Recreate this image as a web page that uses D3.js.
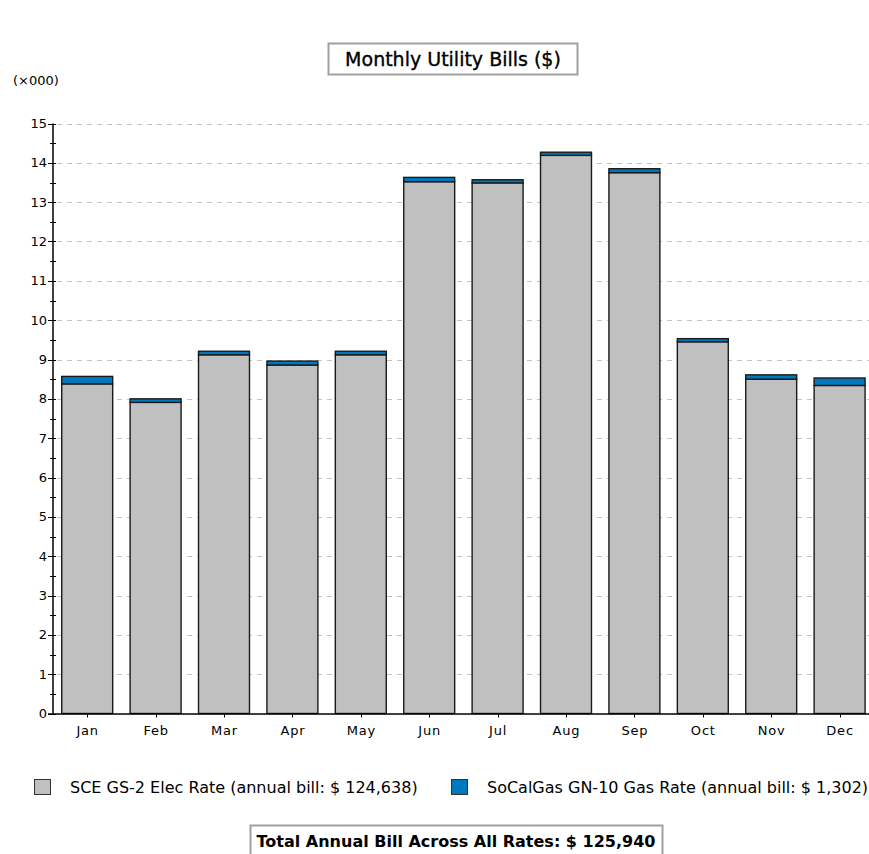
<!DOCTYPE html>
<html><head><meta charset="utf-8">
<script src="https://cdn.jsdelivr.net/npm/d3@7"></script>
<style>body{margin:0;background:#fff}svg{display:block}</style>
</head><body>
<svg id="c" width="869" height="854"></svg>
<script>
const months = ["Jan","Feb","Mar","Apr","May","Jun","Jul","Aug","Sep","Oct","Nov","Dec"];
const elec = [8.38,7.91,9.12,8.86,9.12,13.52,13.49,14.19,13.75,9.45,8.50,8.34];
const gas  = [0.19,0.09,0.09,0.10,0.09,0.11,0.08,0.08,0.10,0.08,0.11,0.19];
const yTicks = [0,1,2,3,4,5,6,7,8,9,10,11,12,13,14,15];
const seriesNames = ["SCE GS-2 Elec Rate (annual bill: $ 124,638)","SoCalGas GN-10 Gas Rate (annual bill: $ 1,302)"];
const seriesColors = ["#c0c0c0","#0078bd"];
const titleText = "Monthly Utility Bills ($)";
const totalText = "Total Annual Bill Across All Rates:  $ 125,940";
const unitText = "(\u00d7000)";

const font = "Verdana, 'DejaVu Sans', sans-serif";
const svg = d3.select("#c");
const x0 = 53, y0 = 713.5, yTop = 123.5;
const x = d3.scaleBand().domain(months).range([x0, x0 + 12*68.4]).paddingInner(0.255).paddingOuter(0.1275);
const y = d3.scaleLinear().domain([0,15]).range([y0, yTop]);

// gridlines
svg.append("g").selectAll("line").data(yTicks.filter(d=>d>0)).join("line")
  .attr("x1", x0+4).attr("x2", 869).attr("y1", d=>Math.round(y(d))+0.5).attr("y2", d=>Math.round(y(d))+0.5)
  .attr("stroke","#c4c4c4").attr("stroke-dasharray","5,5");

// bars
const data = months.map((m,i)=>({m, e:elec[i], g:gas[i]}));
const bars = svg.append("g");
bars.selectAll("rect.e").data(data).join("rect").attr("class","e")
  .attr("x", d=>x(d.m)).attr("width", x.bandwidth())
  .attr("y", d=>y(d.e)).attr("height", d=>y0 - y(d.e))
  .attr("fill", seriesColors[0]).attr("stroke","#1a1a1a").attr("stroke-width",1.4);
bars.selectAll("rect.g").data(data).join("rect").attr("class","g")
  .attr("x", d=>x(d.m)).attr("width", x.bandwidth())
  .attr("y", d=>y(d.e+d.g)).attr("height", d=>y(d.e) - y(d.e+d.g))
  .attr("fill", seriesColors[1]).attr("stroke","#1a1a1a").attr("stroke-width",1.4);

// y axis
const ya = svg.append("g").attr("transform",`translate(${x0},0)`);
ya.append("line").attr("x1",0).attr("x2",0).attr("y1",yTop).attr("y2",y0).attr("stroke","#000").attr("stroke-width",1.5);
const minor = d3.range(0.5,15,1);
ya.selectAll("line.mi").data(minor).join("line").attr("class","mi")
  .attr("x1",-3).attr("x2",3).attr("y1",d=>Math.round(y(d))+0.5).attr("y2",d=>Math.round(y(d))+0.5).attr("stroke","#000");
ya.selectAll("line.ma").data(yTicks).join("line").attr("class","ma")
  .attr("x1",-5).attr("x2",3).attr("y1",d=>Math.round(y(d))+0.5).attr("y2",d=>Math.round(y(d))+0.5).attr("stroke","#000");
ya.selectAll("text").data(yTicks).join("text")
  .attr("x",-6).attr("y",d=>y(d)+4.5).attr("text-anchor","end")
  .attr("font-family",font).attr("font-size",13).attr("fill","#000").text(d=>d);

// x axis
const xa = svg.append("g");
xa.append("line").attr("x1",x0-5).attr("x2",869).attr("y1",y0+0.5).attr("y2",y0+0.5).attr("stroke","#000").attr("stroke-width",1.3);
xa.selectAll("line.t").data(months).join("line").attr("class","t")
  .attr("x1",d=>Math.round(x(d)+x.bandwidth()/2)+0.5).attr("x2",d=>Math.round(x(d)+x.bandwidth()/2)+0.5)
  .attr("y1",y0).attr("y2",y0+4).attr("stroke","#000");
xa.selectAll("text").data(months).join("text")
  .attr("x",d=>x(d)+x.bandwidth()/2+0.5).attr("y",735).attr("text-anchor","middle")
  .attr("font-family",font).attr("font-size",13).attr("letter-spacing",0.8).attr("fill","#000").text(d=>d);

// unit label
svg.append("text").attr("x",13).attr("y",85).attr("font-family",font).attr("font-size",13).attr("fill","#000").text(unitText);

// title box
svg.append("rect").attr("x",328.5).attr("y",43.5).attr("width",249).attr("height",31).attr("fill","#fff").attr("stroke","#a0a0a0").attr("stroke-width",2);
svg.append("text").attr("x",453).attr("y",66).attr("text-anchor","middle").attr("font-family",font).attr("font-size",19).attr("fill","#000").attr("stroke","#000").attr("stroke-width",0.35).text(titleText);

// legend
const leg = [{x:34, tx:70},{x:451, tx:487}];
leg.forEach((l,i)=>{
  svg.append("rect").attr("x",l.x+0.5).attr("y",779.5).attr("width",16).attr("height",15).attr("fill",seriesColors[i]).attr("stroke","#333").attr("stroke-width",1);
  svg.append("text").attr("x",l.tx).attr("y",793).attr("font-family",font).attr("font-size",16).attr("fill","#000").text(seriesNames[i]);
});

// total box
svg.append("rect").attr("x",250.5).attr("y",825.5).attr("width",412).attr("height",34).attr("fill","#fff").attr("stroke","#a0a0a0").attr("stroke-width",2);
svg.append("text").attr("x",456).attr("y",847).attr("text-anchor","middle").attr("font-family",font).attr("font-size",16).attr("font-weight","bold").attr("fill","#000").text(totalText);
</script>
</body></html>
